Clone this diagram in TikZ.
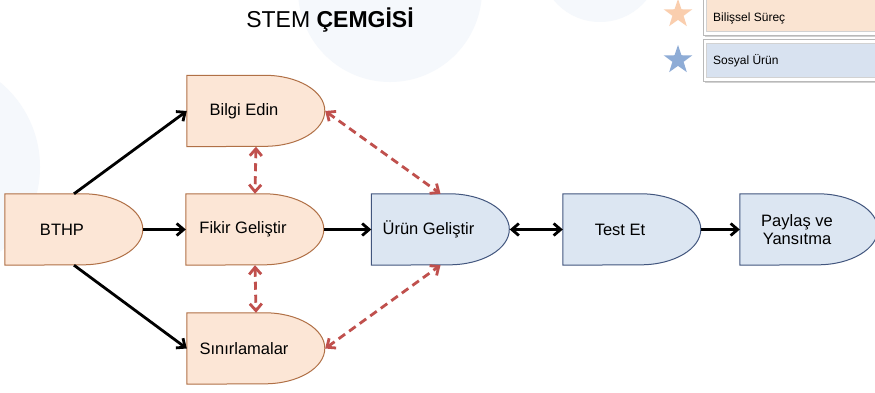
\documentclass[tikz,border=0pt]{standalone}
\usepackage{fontspec}
\setmainfont{Liberation Sans}
\usetikzlibrary{arrows.meta,shapes.geometric,shadows}
\definecolor{ofill}{RGB}{252,230,214}
\definecolor{oline}{RGB}{176,112,70}
\definecolor{bfill}{RGB}{220,230,242}
\definecolor{bline}{RGB}{66,86,126}
\definecolor{redarr}{RGB}{192,80,77}
\definecolor{bgcirc}{RGB}{245,248,252}
\definecolor{ostar}{RGB}{250,206,174}
\definecolor{bstar}{RGB}{142,172,214}
\definecolor{lego}{RGB}{250,228,210}
\definecolor{legb}{RGB}{216,226,240}
\tikzset{
  dbox/.style={rectangle, minimum width=138pt, minimum height=71pt, inner sep=0pt},
  dtext/.style={font=\fontsize{16.5}{18}\selectfont, align=center, inner sep=0pt},
  tip/.style={Straight Barb[length=7pt,width=12pt]},
  blk/.style={line width=2.8pt, -{Straight Barb[length=7pt,width=12pt]}},
  blkboth/.style={line width=2.8pt, {Straight Barb[length=7pt,width=12pt]}-{Straight Barb[length=7pt,width=12pt]}},
  reddash/.style={line width=2.8pt, draw=redarr, dash pattern=on 8pt off 5pt,
    {Straight Barb[length=7pt,width=12pt]}-{Straight Barb[length=7pt,width=12pt]}},
  legout/.style={rectangle, fill=white, draw=gray!55, line width=0.6pt, inner sep=0pt, drop shadow={shadow xshift=2pt, shadow yshift=-2pt, opacity=0.35}},
  legin/.style={rectangle, draw=gray!35, line width=0.4pt, inner sep=0pt},
  legtext/.style={font=\fontsize{12}{14}\selectfont, anchor=west, inner sep=0pt},
  legstar/.style={star, star points=5, star point ratio=2.55, minimum size=30pt, inner sep=0pt}
}
\newcommand\dly[6]{%
  \node[dbox] (#1) at (#2,#3) {};
  \draw[fill=#4, draw=#5, line width=1pt] (#1.north west) -- ++(78pt,0)
    arc[start angle=90, end angle=-90, x radius=60pt, y radius=35.5pt]
    -- (#1.south west) -- cycle;
  \node[dtext] (#1-t) at ([xshift=-12pt]#1.center) {#6};
}
\begin{document}
\begin{tikzpicture}[x=1pt,y=1pt]
\useasboundingbox (0,0) rectangle (875,392);
\clip (0,0) rectangle (875,392);
\fill[white] (0,0) rectangle (875,392);
% faint background circles
\fill[bgcirc] (390,402) circle (92);
\fill[bgcirc] (-70,225) circle (110);
\fill[bgcirc] (600,430) circle (60);

% title
\node[font=\fontsize{23}{27}\selectfont, inner sep=0pt] (title) at (330,372) {STEM \textbf{ÇEMGİSİ}};

% legend
\node[legstar, fill=ostar] (s1) at (678,378) {};
\node[legstar, fill=bstar] (s2) at (678,332) {};
\node[legout, minimum width=179pt, minimum height=40pt] (l1o) at (792.5,377) {};
\node[legin, fill=lego, minimum width=176pt, minimum height=36pt] (l1i) at (794,379) {};
\node[legtext] (l1t) at (713,374) {Bilişsel Süreç};
\node[legout, minimum width=179pt, minimum height=42pt] (l2o) at (792.5,332) {};
\node[legin, fill=legb, minimum width=176pt, minimum height=34pt] (l2i) at (794,332) {};
\node[legtext] (l2t) at (713,331) {Sosyal Ürün};

% shapes
\dly{bthp}{74}{162.5}{ofill}{oline}{BTHP}
\dly{bilgi}{256}{281}{ofill}{oline}{Bilgi Edin}
\dly{fikir}{255}{162.5}{ofill}{oline}{Fikir Geliştir}
\dly{sinir}{256}{43.5}{ofill}{oline}{Sınırlamalar}
\dly{urun}{440.5}{162.5}{bfill}{bline}{Ürün Geliştir}
\dly{test}{632}{162.5}{bfill}{bline}{Test Et}
\dly{paylas}{809}{162.5}{bfill}{bline}{Paylaş ve\\Yansıtma}

% connectors
\draw[blk] (bthp.north) -- (bilgi.west);
\draw[blk] (bthp.south) -- (sinir.west);
\draw[blk] (bthp.east) -- (fikir.west);
\draw[blk] (fikir.east) -- (urun.west);
\draw[blkboth] (urun.east) -- (test.west);
\draw[blk] (test.east) -- (paylas.west);
\draw[reddash] (bilgi.south) -- (fikir.north);
\draw[reddash] (fikir.south) -- (sinir.north);
\draw[reddash] (bilgi.east) -- (urun.north);
\draw[reddash] (sinir.east) -- (urun.south);
\end{tikzpicture}
\end{document}
